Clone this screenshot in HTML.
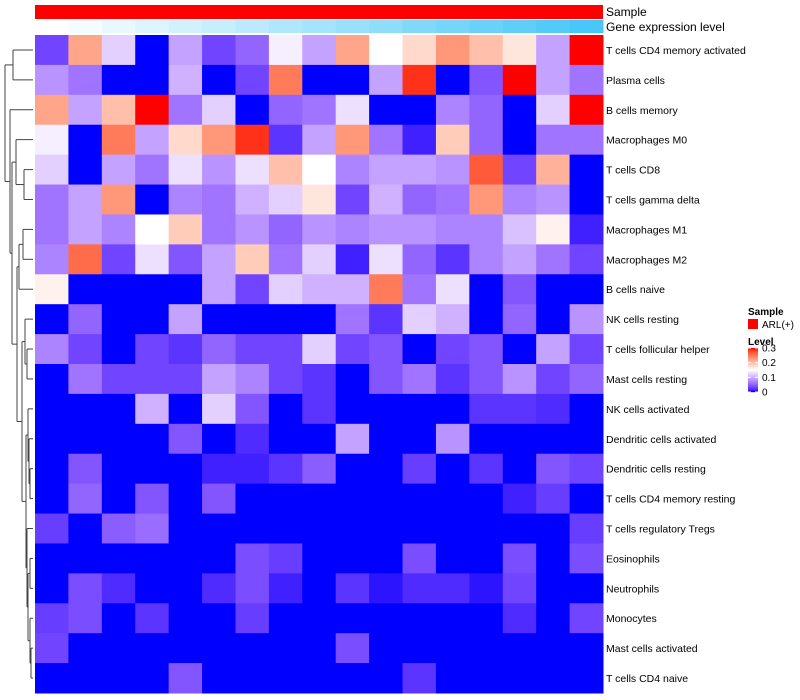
<!DOCTYPE html>
<html><head><meta charset="utf-8">
<style>
body{margin:0;background:#fff;}
svg{display:block;font-family:"Liberation Sans",sans-serif;}
</style></head>
<body>
<svg id="chart" width="800" height="700">
<g id="dend"></g>
<g id="cells"></g>
<g id="topann"></g>
<g id="labels"></g>
<text x="606" y="16" font-size="12">Sample</text>
<text x="606" y="31" font-size="12">Gene expression level</text>
<g>
<text x="748" y="315" font-size="10" font-weight="bold">Sample</text>
<rect x="748" y="319" width="10" height="10" fill="#ff0000"/>
<text x="762" y="328" font-size="10">ARL(+)</text>
<text x="748" y="345" font-size="10" font-weight="bold">Level</text>
<g id="cbar"></g>
</g>
</svg>
<script>
const rowNames=["T cells CD4 memory activated","Plasma cells","B cells memory","Macrophages M0","T cells CD8","T cells gamma delta","Macrophages M1","Macrophages M2","B cells naive","NK cells resting","T cells follicular helper","Mast cells resting","NK cells activated","Dendritic cells activated","Dendritic cells resting","T cells CD4 memory resting","T cells regulatory  Tregs","Eosinophils","Neutrophils","Monocytes","Mast cells activated","T cells CD4 naive"];
const r1=[0.03,0.22,0.12,0,0.09,0.03,0.05,0.14,0.09,0.22,0.15,0.18,0.23,0.2,0.17,0.09,0.3];
const r2=[0.08,0.06,0,0,0.1,0,0.03,0.25,0,0,0.09,0.29,0,0.04,0.3,0.09,0.06];
const r3=[0.22,0.09,0.2,0.3,0.06,0.12,0,0.05,0.06,0.13,0,0,0.07,0.05,0,0.12,0.3];
const r4=[0.14,0,0.25,0.09,0.18,0.23,0.29,0.02,0.09,0.23,0.06,0.01,0.19,0.05,0,0.06,0.06];
const r5=[0.12,0,0.09,0.06,0.13,0.08,0.13,0.2,0.15,0.07,0.09,0.09,0.08,0.27,0.03,0.21,0];
const r6=[0.06,0.09,0.23,0,0.07,0.06,0.1,0.12,0.17,0.03,0.1,0.05,0.06,0.23,0.07,0.08,0];
const r7=[0.06,0.09,0.07,0.15,0.19,0.06,0.08,0.05,0.08,0.07,0.08,0.08,0.07,0.07,0.11,0.16,0.01];
const r8=[0.07,0.26,0.03,0.13,0.04,0.09,0.19,0.06,0.12,0.01,0.13,0.05,0.02,0.07,0.09,0.06,0.03];
const r9=[0.16,0,0,0,0,0.09,0.03,0.12,0.1,0.1,0.25,0.06,0.13,0,0.04,0,0];
const r10=[0,0.05,0,0,0.09,0,0,0,0,0.06,0.02,0.12,0.1,0,0.05,0,0.08];
const r11=[0.07,0.03,0,0.03,0.02,0.05,0.03,0.03,0.12,0.03,0.04,0,0.03,0.04,0,0.09,0.03];
const r12=[0,0.06,0.03,0.03,0.03,0.09,0.07,0.03,0.02,0,0.04,0.06,0.02,0.04,0.08,0.03,0.05];
const r13=[0,0,0,0.1,0,0.12,0.04,0,0.02,0,0,0,0,0.02,0.02,0.015,0];
const r14=[0,0,0,0,0.04,0,0.015,0,0,0.09,0,0,0.08,0,0,0,0];
const r15=[0,0.04,0,0,0,0.01,0.01,0.02,0.045,0,0,0.025,0,0.02,0,0.04,0.03];
const r16=[0,0.05,0,0.04,0,0.04,0,0,0,0,0,0,0,0,0.01,0.025,0];
const r17=[0.025,0,0.045,0.055,0,0,0,0,0,0,0,0,0,0,0,0,0.025];
const r18=[0,0,0,0,0,0,0.035,0.025,0,0,0,0.035,0,0,0.035,0,0.035];
const r19=[0,0.035,0.015,0,0,0.015,0.035,0.01,0,0.02,0.005,0.015,0.015,0.005,0.03,0,0];
const r20=[0.025,0.035,0,0.02,0,0,0.025,0,0,0,0,0,0,0,0.015,0,0.03];
const r21=[0.03,0,0,0,0,0,0,0,0,0.035,0,0,0,0,0,0,0];
const r22=[0,0,0,0,0.04,0,0,0,0,0,0,0.02,0,0,0,0,0];
const values=[r1,r2,r3,r4,r5,r6,r7,r8,r9,r10,r11,r12,r13,r14,r15,r16,r17,r18,r19,r20,r21,r22];
const levelTicks=[0,0.1,0.2,0.3];

const NS="http://www.w3.org/2000/svg";
const X0=35,X1=603,Y0=35,Y1=693;
const nCol=r1.length,nRow=values.length;
const cw=(X1-X0)/nCol,ch=(Y1-Y0)/nRow;
const xPos=j=>X0+j*cw, yPos=i=>Y0+i*ch;

function toLab(c){let [r,g,b]=c.map(v=>{v/=255;return v<=0.04045?v/12.92:Math.pow((v+0.055)/1.055,2.4);});
let x=(r*0.4124+g*0.3576+b*0.1805)/0.95047,y=r*0.2126+g*0.7152+b*0.0722,z=(r*0.0193+g*0.1192+b*0.9505)/1.08883;
const f=t=>t>0.008856?Math.cbrt(t):7.787*t+16/116;return [116*f(y)-16,500*(f(x)-f(y)),200*(f(y)-f(z))];}
function fromLab(l){let fy=(l[0]+16)/116,fx=fy+l[1]/500,fz=fy-l[2]/200;const g=t=>t*t*t>0.008856?t*t*t:(t-16/116)/7.787;
let x=g(fx)*0.95047,y=g(fy),z=g(fz)*1.08883;
let r=x*3.2406-y*1.5372-z*0.4986,gg=-x*0.9689+y*1.8758+z*0.0415,b=x*0.0557-y*0.2040+z*1.0570;
return [r,gg,b].map(v=>{v=v<=0.0031308?12.92*v:1.055*Math.pow(v,1/2.4)-0.055;return Math.round(Math.max(0,Math.min(1,v))*255);});}
const cBlue=toLab([0,0,255]),cWhite=toLab([255,255,255]),cRed=toLab([255,0,0]);
function col(v){v=Math.max(0,Math.min(0.3,v));let a,b,t;if(v<0.15){a=cBlue;b=cWhite;t=v/0.15;}else{a=cWhite;b=cRed;t=(v-0.15)/0.15;}
const c=fromLab(a.map((x,k)=>x+(b[k]-x)*t));return `rgb(${c[0]},${c[1]},${c[2]})`;}

const cells=document.getElementById('cells');
values.forEach((row,i)=>row.forEach((v,j)=>{const r=document.createElementNS(NS,'rect');
r.setAttribute('x',xPos(j));r.setAttribute('y',yPos(i));r.setAttribute('width',cw+0.5);r.setAttribute('height',ch+0.5);r.setAttribute('fill',col(v));


cells.appendChild(r);}));

const labels=document.getElementById('labels');
rowNames.forEach((n,i)=>{const t=document.createElementNS(NS,'text');t.setAttribute('x',606);t.setAttribute('y',yPos(i)+ch/2+4);t.setAttribute('font-size','10.5');t.textContent=n;


labels.appendChild(t);});

const topG=document.getElementById('topann');
const sb=document.createElementNS(NS,'rect');sb.setAttribute('x',X0);sb.setAttribute('y',5);sb.setAttribute('width',X1-X0);sb.setAttribute('height',14);sb.setAttribute('fill','#ff0000');


topG.appendChild(sb);
for(let j=0;j<nCol;j++){const t=j/(nCol-1);const r=document.createElementNS(NS,'rect');
r.setAttribute('x',xPos(j));r.setAttribute('y',20);r.setAttribute('width',cw+0.5);r.setAttribute('height',13);
r.setAttribute('fill',`rgb(${Math.round(255-t*183)},${Math.round(255-t*55)},${Math.round(255-t*7)})`);


topG.appendChild(r);}

const cbar=document.getElementById('cbar');
const CB0=348,CB1=392;
for(let k=0;k<44;k++){const v=0.3*(1-k/43);const r=document.createElementNS(NS,'rect');r.setAttribute('x',748);r.setAttribute('y',CB0+k);r.setAttribute('width',10);r.setAttribute('height',1.2);r.setAttribute('fill',col(v));


cbar.appendChild(r);}
levelTicks.forEach(v=>{const y=CB1-(v/0.3)*(CB1-CB0);const t=document.createElementNS(NS,'text');t.setAttribute('x',762);t.setAttribute('y',y+3.5);t.setAttribute('font-size','10');t.textContent=String(v);


cbar.appendChild(t);
[748,755].forEach(x=>{const l=document.createElementNS(NS,'line');l.setAttribute('x1',x);l.setAttribute('x2',x+3);l.setAttribute('y1',y);l.setAttribute('y2',y);l.setAttribute('stroke','#fff');


cbar.appendChild(l);});});

const tree={x:5,l:{x:13,l:0,r:1},r:{x:10,l:2,r:{x:12,
 l:{x:16,l:3,r:{x:24,l:4,r:5}},
 r:{x:17,l:{x:19,l:{x:23,l:6,r:7},r:8},
  r:{x:22,l:{x:25,l:9,r:{x:27,l:10,r:11}},
   r:{x:26,l:{x:28,l:12,r:{x:29,l:13,r:{x:30,l:14,r:15}}},
    r:{x:27,l:16,r:{x:28,l:{x:30,l:17,r:18},r:{x:30,l:19,r:{x:31,l:20,r:21}}}}}}}}}};
const dend=document.getElementById('dend');
function line(x1,y1,x2,y2){const l=document.createElementNS(NS,'line');l.setAttribute('x1',x1);l.setAttribute('y1',y1);l.setAttribute('x2',x2);l.setAttribute('y2',y2);l.setAttribute('stroke','#444');l.setAttribute('stroke-width','1');


dend.appendChild(l);}
function draw(n){if(typeof n==='number')return {x:33,y:yPos(n)+ch/2};
const a=draw(n.l),b=draw(n.r);line(n.x,a.y,a.x,a.y);line(n.x,b.y,b.x,b.y);line(n.x,a.y,n.x,b.y);return {x:n.x,y:(a.y+b.y)/2};}
draw(tree);
</script>
</body></html>
